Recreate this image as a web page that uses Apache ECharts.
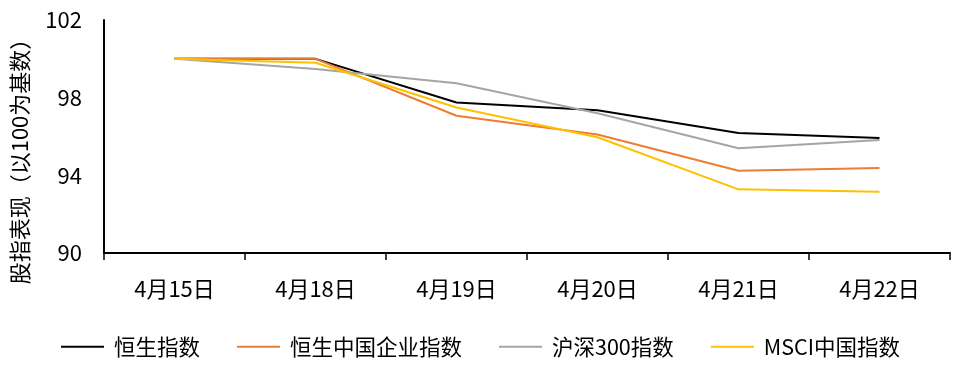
<!DOCTYPE html>
<html>
<head>
<meta charset="utf-8">
<script src="https://cdn.jsdelivr.net/npm/echarts@6/dist/echarts.min.js"></script>
<style>html,body{margin:0;padding:0;background:#fff}#c{width:970px;height:371px}</style>
</head>
<body>
<div id="c"></div>
<script>
var categories = ['4月15日', '4月18日', '4月19日', '4月20日', '4月21日', '4月22日'];
var seriesNames = ['恒生指数', '恒生中国企业指数', '沪深300指数', 'MSCI中国指数'];
var hsi = [100, 100, 97.75, 97.35, 96.18, 95.92];
var hscei = [100, 100, 97.07, 96.1, 94.24, 94.38];
var csi300 = [100, 99.48, 98.74, 97.2, 95.39, 95.82];
var msci = [100, 99.8, 97.49, 95.96, 93.28, 93.16];
var yTicks = {min: 90, max: 102, interval: 4};
var yName = '股指表现（以100为基数）';

var colors = ['#000000', '#ED7D31', '#A5A5A5', '#FFC000'];
var font = '"Noto Sans CJK SC", "Noto Sans", sans-serif';
var dataList = [hsi, hscei, csi300, msci];

var chart = echarts.init(document.getElementById('c'), null, {renderer: 'canvas'});
chart.setOption({
  animation: false,
  textStyle: {fontFamily: font},
  grid: {left: 104, right: 20, top: 20, bottom: 118, containLabel: false},
  legend: {
    left: 56, top: 331,
    icon: 'rect',
    itemWidth: 43, itemHeight: 2, itemGap: 37,
    textStyle: {fontSize: 21.5, color: '#000', fontFamily: font, padding: [0, 0, 0, 5]},
    data: seriesNames
  },
  graphic: [{
    type: 'text', x: 20, y: 156, rotation: Math.PI / 2,
    style: {text: yName, fontSize: 22, fill: '#000', fontFamily: font, align: 'center', verticalAlign: 'middle'}
  }],
  xAxis: {
    type: 'category', data: categories, boundaryGap: true,
    axisLine: {lineStyle: {color: '#000', width: 2}},
    axisTick: {show: true, length: 7, lineStyle: {color: '#000', width: 1.5}},
    axisLabel: {color: '#000', fontSize: 22, margin: 25, fontFamily: font},
    splitLine: {show: false}
  },
  yAxis: {
    type: 'value', min: yTicks.min, max: yTicks.max, interval: yTicks.interval,
    axisLine: {show: true, lineStyle: {color: '#000', width: 2}},
    axisTick: {show: false},
    axisLabel: {color: '#000', fontSize: 22, margin: 22, fontFamily: font},
    splitLine: {show: false}
  },
  series: seriesNames.map(function (n, i) {
    return {
      name: n, type: 'line', data: dataList[i], symbol: 'none', showSymbol: false,
      lineStyle: {color: colors[i], width: 2}, itemStyle: {color: colors[i]}
    };
  })
});
</script>
</body>
</html>
